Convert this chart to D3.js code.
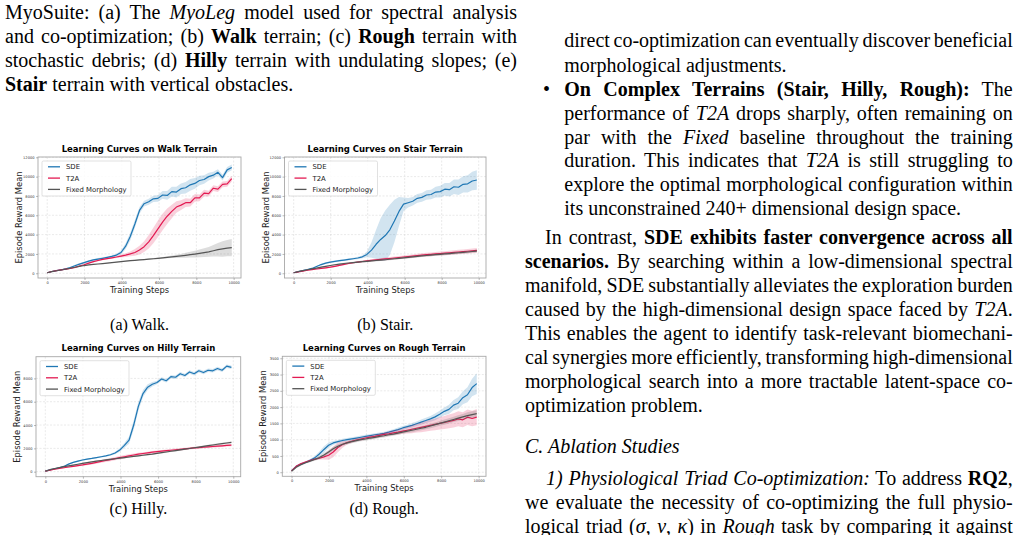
<!DOCTYPE html>
<html>
<head>
<meta charset="utf-8">
<script src="https://cdn.jsdelivr.net/npm/d3@7"></script>
<style>
  body { margin: 0; width: 1020px; height: 535px; overflow: hidden; background: #fff; position: relative;
         font-family: "Liberation Serif", "Times New Roman", serif; color: #000; }
  .ln { position: absolute; font-size: 20px; line-height: 24px; height: 24px; white-space: nowrap; width: max-content; }
</style>
</head>
<body>
<script>
// Training steps (x values shared by every curve)
const steps = [0, 247.5, 495, 742.5, 990, 1237.5, 1485, 1732.5, 1980, 2227.5, 2475, 2722.5, 2970, 3217.5,
  3465, 3712.5, 3960, 4207.5, 4455, 4702.5, 4950, 5197.5, 5445, 5692.5, 5940, 6187.5, 6435, 6682.5,
  6930, 7177.5, 7425, 7672.5, 7920, 8167.5, 8415, 8662.5, 8910, 9157.5, 9405, 9652.5, 9900];

const xTicks = [0, 2000, 4000, 6000, 8000, 10000];
const yTicksWalk = [0, 2000, 4000, 6000, 8000, 10000, 12000];
const yTicksHilly = [0, 2000, 4000, 6000, 8000];
const yTicksRough = [0, 500, 1000, 1500, 2000, 2500, 3000, 3500];

const methods = ["SDE", "T2A", "Fixed Morphology"];

// Walk terrain
const walkSDE = [50, 180, 280, 360, 450, 600, 780, 950, 1100, 1250, 1380, 1470, 1550, 1640, 1740, 1880, 2150, 2800, 3800, 5100, 6500,
  7200, 7400, 7700, 7750, 8100, 8050, 8450, 8400, 8750, 8850, 9150, 9300, 9600, 9700, 10000, 10150, 10450, 9900, 10700, 10950];
const walkSDEStd = [30, 40, 50, 60, 70, 80, 90, 100, 100, 100, 100, 100, 100, 100, 120, 150, 200, 300, 400, 400, 350,
  300, 300, 320, 350, 400, 450, 500, 550, 550, 600, 600, 550, 500, 450, 400, 350, 320, 300, 300, 300];
const walkT2A = [50, 180, 270, 350, 420, 500, 600, 750, 880, 1050, 1200, 1320, 1430, 1520, 1600, 1680, 1780, 1880, 2000, 2150, 2400,
  2750, 3250, 3900, 4600, 5300, 5900, 6400, 6850, 7050, 7300, 7300, 7800, 7800, 8300, 8250, 8800, 8700, 9200, 9250, 9800];
const walkT2AStd = [30, 40, 50, 50, 60, 60, 70, 80, 80, 80, 80, 80, 80, 80, 90, 100, 150, 200, 250, 350, 450,
  550, 700, 800, 850, 850, 800, 700, 600, 500, 450, 400, 400, 350, 350, 300, 300, 300, 300, 300, 300];
const walkFixed = [50, 170, 260, 340, 420, 520, 620, 720, 800, 860, 910, 960, 1000, 1050, 1100, 1150, 1200, 1250, 1300, 1340, 1380,
  1420, 1460, 1500, 1550, 1600, 1650, 1700, 1750, 1800, 1860, 1920, 1980, 2050, 2130, 2220, 2330, 2440, 2520, 2600, 2650];
const walkFixedStd = [20, 30, 30, 30, 30, 30, 30, 30, 30, 30, 30, 30, 30, 30, 40, 40, 40, 40, 50, 50, 50,
  60, 60, 70, 80, 90, 100, 130, 160, 200, 250, 300, 350, 400, 450, 500, 600, 700, 800, 850, 900];

// Stair terrain
const stairSDE = [50, 170, 280, 380, 500, 700, 900, 1050, 1150, 1230, 1300, 1360, 1430, 1500, 1580, 1700, 1950, 2400, 3000, 3500, 3900,
  4500, 5400, 6400, 7150, 7300, 7450, 7750, 7850, 8100, 8150, 8400, 8450, 8700, 8650, 8950, 8900, 9200, 9250, 9550, 9650];
const stairSDEStd = [30, 40, 50, 60, 70, 80, 90, 100, 100, 100, 100, 100, 100, 100, 120, 150, 300, 800, 1500, 2200, 2600,
  2600, 2200, 1500, 700, 500, 450, 450, 450, 500, 500, 550, 600, 650, 700, 750, 800, 850, 900, 950, 1000];
const stairT2A = [50, 150, 230, 310, 380, 440, 500, 560, 630, 720, 820, 920, 1010, 1090, 1160, 1220, 1280, 1330, 1380, 1430, 1480,
  1530, 1580, 1630, 1680, 1730, 1780, 1830, 1880, 1920, 1960, 2000, 2040, 2080, 2120, 2160, 2200, 2240, 2280, 2320, 2360];
const stairT2AStd = [30, 40, 50, 50, 50, 50, 50, 60, 60, 70, 80, 80, 80, 80, 90, 100, 100, 110, 120, 130, 140,
  150, 150, 160, 160, 170, 170, 180, 180, 190, 200, 200, 210, 210, 220, 220, 230, 230, 240, 240, 250];
const stairFixed = [50, 170, 270, 360, 450, 540, 630, 720, 800, 880, 950, 1010, 1060, 1110, 1160, 1200, 1240, 1280, 1320, 1360, 1400,
  1450, 1500, 1550, 1600, 1650, 1700, 1750, 1800, 1840, 1880, 1920, 1960, 2000, 2040, 2080, 2120, 2160, 2200, 2250, 2300];
const stairFixedStd = [20, 30, 30, 40, 40, 50, 50, 60, 60, 70, 70, 80, 80, 80, 90, 90, 90, 100, 100, 100, 100,
  100, 100, 110, 110, 110, 110, 120, 120, 120, 120, 120, 130, 130, 130, 130, 130, 140, 140, 140, 150];

// Hilly terrain
const hillySDE = [50, 150, 250, 330, 450, 650, 800, 900, 1000, 1080, 1140, 1210, 1280, 1350, 1450, 1600, 1850, 2250, 2700, 4000, 5600,
  6700, 7250, 7500, 7650, 7950, 7800, 8150, 8100, 8400, 8250, 8550, 8400, 8650, 8500, 8700, 8650, 8850, 8700, 9050, 8950];
const hillySDEStd = [20, 30, 30, 40, 50, 60, 60, 60, 60, 60, 60, 60, 60, 70, 80, 100, 150, 200, 300, 400, 400,
  300, 250, 200, 150, 150, 150, 150, 150, 150, 150, 150, 150, 150, 150, 150, 150, 150, 150, 150, 150];
const hillyT2A = [50, 130, 210, 280, 340, 400, 460, 520, 580, 650, 720, 800, 880, 960, 1040, 1120, 1200, 1280, 1360, 1430, 1500,
  1560, 1620, 1670, 1720, 1760, 1800, 1840, 1880, 1920, 1960, 2000, 2040, 2070, 2100, 2130, 2160, 2190, 2220, 2250, 2280];
const hillyT2AStd = [30, 40, 40, 50, 50, 60, 60, 70, 80, 90, 100, 110, 120, 130, 140, 150, 150, 150, 140, 130, 120,
  110, 100, 100, 100, 100, 100, 100, 100, 100, 100, 100, 100, 100, 100, 100, 100, 100, 100, 100, 100];
const hillyFixed = [50, 170, 270, 350, 430, 500, 570, 640, 710, 780, 840, 900, 960, 1010, 1060, 1110, 1160, 1210, 1260, 1310, 1360,
  1410, 1460, 1510, 1570, 1630, 1690, 1750, 1810, 1870, 1930, 1990, 2050, 2110, 2170, 2230, 2290, 2350, 2410, 2460, 2510];
const hillyFixedStd = [20, 30, 30, 40, 40, 40, 50, 50, 50, 50, 50, 50, 50, 60, 60, 60, 60, 60, 60, 60, 60,
  60, 60, 60, 60, 60, 60, 70, 70, 70, 70, 70, 70, 70, 80, 80, 80, 80, 80, 80, 80];

// Rough terrain
const roughSDE = [50, 180, 250, 300, 370, 440, 560, 700, 830, 900, 940, 975, 1000, 1025, 1050, 1075, 1100, 1125, 1150, 1170, 1195,
  1230, 1270, 1310, 1360, 1400, 1440, 1490, 1540, 1590, 1640, 1700, 1780, 1870, 1930, 2060, 2120, 2290, 2380, 2600, 2720];
const roughSDEStd = [20, 30, 30, 30, 40, 50, 80, 100, 80, 60, 50, 50, 50, 50, 50, 50, 50, 50, 50, 50, 50,
  50, 50, 60, 60, 60, 70, 70, 80, 80, 90, 100, 110, 120, 140, 160, 180, 200, 230, 270, 320];
const roughT2A = [40, 180, 260, 310, 360, 400, 430, 470, 520, 620, 760, 850, 910, 950, 990, 1020, 1050, 1080, 1100, 1130, 1160,
  1180, 1210, 1230, 1260, 1290, 1320, 1350, 1380, 1410, 1440, 1470, 1500, 1530, 1560, 1590, 1640, 1610, 1690, 1650, 1690];
const roughT2AStd = [20, 30, 30, 30, 30, 30, 40, 80, 140, 160, 150, 100, 60, 50, 50, 50, 50, 50, 60, 60, 60,
  70, 70, 80, 80, 100, 120, 130, 150, 160, 170, 180, 190, 200, 210, 220, 230, 230, 240, 240, 250];
const roughFixed = [30, 150, 230, 290, 340, 390, 450, 530, 620, 720, 800, 860, 900, 940, 970, 1000, 1020, 1050, 1070, 1100, 1120,
  1150, 1170, 1200, 1230, 1260, 1290, 1320, 1350, 1380, 1420, 1460, 1500, 1540, 1580, 1620, 1660, 1700, 1740, 1770, 1800];
const roughFixedStd = [20, 30, 30, 30, 30, 40, 50, 60, 60, 60, 60, 50, 50, 50, 50, 50, 50, 50, 50, 50, 50,
  50, 50, 50, 50, 50, 60, 60, 60, 60, 70, 70, 70, 80, 80, 80, 90, 90, 100, 100, 100];

const colors = ["#1f77b4", "#e31a52", "#555555"];

// layout of the four sub-figures
const panels = [
  { title: "Learning Curves on Walk Terrain", caption: "(a) Walk.", l: 38, r: 241, t: 157, b: 278, yDom: [-490, 12030],
    yTicks: yTicksWalk, capY: 330, data: [[walkSDE, walkSDEStd], [walkT2A, walkT2AStd], [walkFixed, walkFixedStd]] },
  { title: "Learning Curves on Stair Terrain", caption: "(b) Stair.", l: 284.5, r: 486, t: 157, b: 278, yDom: [-490, 12030],
    yTicks: yTicksWalk, capY: 330, data: [[stairSDE, stairSDEStd], [stairT2A, stairT2AStd], [stairFixed, stairFixedStd]] },
  { title: "Learning Curves on Hilly Terrain", caption: "(c) Hilly.", l: 36, r: 240.7, t: 356.7, b: 476.7, yDom: [-430, 9860],
    yTicks: yTicksHilly, capY: 514, data: [[hillySDE, hillySDEStd], [hillyT2A, hillyT2AStd], [hillyFixed, hillyFixedStd]] },
  { title: "Learning Curves on Rough Terrain", caption: "(d) Rough.", l: 282.3, r: 486, t: 356.3, b: 476.3, yDom: [-125, 3560],
    yTicks: yTicksRough, capY: 514, data: [[roughSDE, roughSDEStd], [roughT2A, roughT2AStd], [roughFixed, roughFixedStd]] }
];

const svg = d3.select("body").append("svg")
  .attr("width", 1020)
  .attr("height", 535)
  .style("position", "absolute")
  .style("left", 0)
  .style("top", 0);

panels.forEach(function (p, k) {
  const x = d3.scaleLinear().domain([-495, 10395]).range([p.l, p.r]);
  const y = d3.scaleLinear().domain(p.yDom).range([p.b, p.t]);
  const g = svg.append("g").attr("font-family", "DejaVu Sans");

  g.append("clipPath").attr("id", "clip" + k)
    .append("rect")
    .attr("x", p.l).attr("y", p.t)
    .attr("width", p.r - p.l).attr("height", p.b - p.t);

  // dashed grid
  g.append("g").selectAll("line")
    .data(xTicks)
    .enter().append("line")
    .attr("x1", d => x(d)).attr("x2", d => x(d))
    .attr("y1", p.t).attr("y2", p.b)
    .attr("stroke", "#d4d4d4").attr("stroke-width", 0.5).attr("stroke-dasharray", "2,1.5");
  g.append("g").selectAll("line")
    .data(p.yTicks)
    .enter().append("line")
    .attr("x1", p.l).attr("x2", p.r)
    .attr("y1", d => y(d)).attr("y2", d => y(d))
    .attr("stroke", "#d4d4d4").attr("stroke-width", 0.5).attr("stroke-dasharray", "2,1.5");

  // bands then mean curves
  const plot = g.append("g").attr("clip-path", "url(#clip" + k + ")");
  p.data.forEach(function (s, i) {
    const pts = steps.map((st, j) => ({ step: st, mean: s[0][j], sd: s[1][j] }));
    plot.append("path")
      .datum(pts)
      .attr("d", d3.area().x(d => x(d.step)).y0(d => y(d.mean - d.sd)).y1(d => y(d.mean + d.sd)))
      .attr("fill", colors[i])
      .attr("fill-opacity", 0.2);
    plot.append("path")
      .datum(pts)
      .attr("d", d3.line().x(d => x(d.step)).y(d => y(d.mean)))
      .attr("fill", "none")
      .attr("stroke", colors[i])
      .attr("stroke-width", 1.2)
      .attr("stroke-linejoin", "round");
  });

  // frame
  g.append("rect")
    .attr("x", p.l).attr("y", p.t)
    .attr("width", p.r - p.l).attr("height", p.b - p.t)
    .attr("fill", "none").attr("stroke", "#a8a8a8").attr("stroke-width", 0.9);

  // axes
  const xa = g.append("g")
    .attr("transform", "translate(0," + p.b + ")")
    .call(d3.axisBottom(x).tickValues(xTicks).tickSize(2).tickPadding(1.5).tickFormat(d3.format("d")));
  const ya = g.append("g")
    .attr("transform", "translate(" + p.l + ",0)")
    .call(d3.axisLeft(y).tickValues(p.yTicks).tickSize(2).tickPadding(1.5).tickFormat(d3.format("d")));
  [xa, ya].forEach(function (a) {
    a.attr("font-family", "DejaVu Sans").attr("font-size", 3.6);
    a.select(".domain").remove();
    a.selectAll("line").attr("stroke", "#777").attr("stroke-width", 0.5);
    a.selectAll("text").attr("fill", "#333");
  });

  // titles
  g.append("text")
    .attr("x", (p.l + p.r) / 2).attr("y", p.t - 5.3)
    .attr("text-anchor", "middle").attr("font-weight", "bold").attr("font-size", 8.5)
    .text(p.title);
  g.append("text")
    .attr("x", (p.l + p.r) / 2).attr("y", p.b + 14.8)
    .attr("text-anchor", "middle").attr("font-size", 8.4).attr("fill", "#222")
    .text("Training Steps");
  g.append("text")
    .attr("transform", "translate(" + (p.l - 16) + "," + ((p.t + p.b) / 2) + ") rotate(-90)")
    .attr("text-anchor", "middle").attr("font-size", 8.4).attr("fill", "#222")
    .text("Episode Reward Mean");

  // legend
  const lx = p.l + 4, ly = p.t + 4;
  const leg = g.append("g");
  leg.append("rect")
    .attr("x", lx).attr("y", ly).attr("width", 89).attr("height", 35).attr("rx", 1.5)
    .attr("fill", "#fff").attr("fill-opacity", 0.85).attr("stroke", "#cccccc").attr("stroke-width", 0.6);
  methods.forEach(function (name, i) {
    const cy = ly + 5.8 + i * 11.3;
    leg.append("line")
      .attr("x1", lx + 6).attr("x2", lx + 18).attr("y1", cy).attr("y2", cy)
      .attr("stroke", colors[i]).attr("stroke-width", 1.3);
    leg.append("text")
      .attr("x", lx + 24).attr("y", cy + 2.5)
      .attr("font-size", 6.9).attr("fill", "#222")
      .text(name);
  });

  // sub-caption
  svg.append("text")
    .attr("x", (p.l + p.r) / 2).attr("y", p.capY)
    .attr("text-anchor", "middle")
    .attr("font-family", "Liberation Serif, Times New Roman, serif")
    .attr("font-size", 16)
    .text(p.caption);
});

// surrounding paper text, one entry per printed line
const textLines = [
  { x: 5, w: 512, b: 18.3, j: true, h: "MyoSuite: (a) The <i>MyoLeg</i> model used for spectral analysis" },
  { x: 5, w: 512, b: 42.7, j: true, h: "and co-optimization; (b) <b>Walk</b> terrain; (c) <b>Rough</b> terrain with" },
  { x: 5, w: 512, b: 66.7, j: true, h: "stochastic debris; (d) <b>Hilly</b> terrain with undulating slopes; (e)" },
  { x: 5, w: 512, b: 90.7, j: false, h: "<b>Stair</b> terrain with vertical obstacles." },

  { x: 564.3, w: 448.4, b: 46.7, j: true, h: "direct co-optimization can eventually discover beneficial" },
  { x: 564.3, w: 448.4, b: 71.7, j: false, h: "morphological adjustments." },
  { x: 543, w: 20, b: 96, j: false, h: "&#8226;" },
  { x: 564.3, w: 448.4, b: 96, j: true, h: "<b>On Complex Terrains (Stair, Hilly, Rough):</b> The" },
  { x: 564.3, w: 448.4, b: 119.3, j: true, h: "performance of <i>T2A</i> drops sharply, often remaining on" },
  { x: 564.3, w: 448.4, b: 143.3, j: true, h: "par with the <i>Fixed</i> baseline throughout the training" },
  { x: 564.3, w: 448.4, b: 166.7, j: true, h: "duration. This indicates that <i>T2A</i> is still struggling to" },
  { x: 564.3, w: 448.4, b: 191, j: true, h: "explore the optimal morphological configuration within" },
  { x: 564.3, w: 448.4, b: 215, j: false, h: "its unconstrained 240+ dimensional design space." },

  { x: 545, w: 467.7, b: 243.3, j: true, h: "In contrast, <b>SDE exhibits faster convergence across all</b>" },
  { x: 525, w: 487.7, b: 267.3, j: true, h: "<b>scenarios.</b> By searching within a low-dimensional spectral" },
  { x: 525, w: 487.7, b: 291.7, j: true, h: "manifold, SDE substantially alleviates the exploration burden" },
  { x: 525, w: 487.7, b: 315.7, j: true, h: "caused by the high-dimensional design space faced by <i>T2A</i>." },
  { x: 525, w: 487.7, b: 339.3, j: true, h: "This enables the agent to identify task-relevant biomechani-" },
  { x: 525, w: 487.7, b: 363.3, j: true, h: "cal synergies more efficiently, transforming high-dimensional" },
  { x: 525, w: 487.7, b: 387.3, j: true, h: "morphological search into a more tractable latent-space co-" },
  { x: 525, w: 487.7, b: 411.7, j: false, h: "optimization problem." },
  { x: 525, w: 487.7, b: 452.7, j: false, h: "<i>C. Ablation Studies</i>" },
  { x: 546, w: 466.7, b: 484.3, j: true, h: "<i>1) Physiological Triad Co-optimization:</i> To address <b>RQ2</b>," },
  { x: 525, w: 487.7, b: 508.3, j: true, h: "we evaluate the necessity of co-optimizing the full physio-" },
  { x: 525, w: 487.7, b: 532.3, j: true, h: "logical triad (<i>σ</i>, <i>ν</i>, <i>κ</i>) in <i>Rough</i> task by comparing it against" }
];

const lines = d3.select("body").selectAll("div.ln")
  .data(textLines)
  .enter().append("div")
  .attr("class", "ln")
  .style("left", d => d.x + "px")
  .style("top", d => (d.b - 18.6) + "px")
  .html(d => d.h);

// justify by hand: spread the spare width over the spaces of each full line
lines.filter(d => d.j).each(function (d) {
  const natural = this.getBoundingClientRect().width;
  const gaps = (this.textContent.match(/ /g) || []).length;
  if (gaps > 0) this.style.wordSpacing = ((d.w - natural) / gaps) + "px";
});
</script>
</body>
</html>
